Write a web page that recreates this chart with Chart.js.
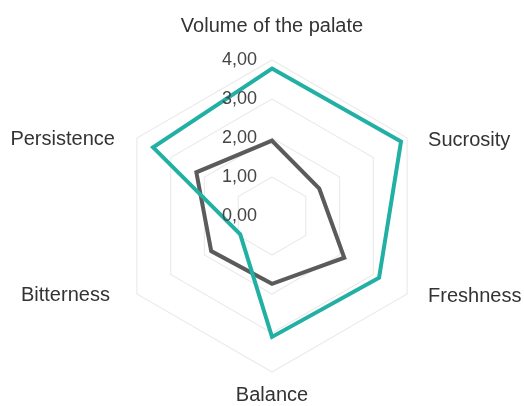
<!DOCTYPE html>
<html>
<head>
<meta charset="utf-8">
<script src="https://cdn.jsdelivr.net/npm/chart.js@4.4.1/dist/chart.umd.min.js"></script>
<style>
  html, body { margin: 0; padding: 0; background: #ffffff; }
  #wrap { width: 524px; height: 406px; position: relative; }
</style>
</head>
<body>
<div id="wrap"><canvas id="radarChart" width="524" height="406"></canvas></div>
<script>
// palate profile
const categories = ['Volume of the palate', 'Sucrosity', 'Freshness', 'Balance', 'Bitterness', 'Persistence'];
const tealValues = [3.78, 3.82, 3.17, 3.10, 0.94, 3.52];
const grayValues = [1.93, 1.40, 2.14, 1.74, 1.80, 2.24];
const tickValues = [0, 1, 2, 3, 4];

const LABEL_FONT = '20px "Liberation Sans", Arial, sans-serif';
const TICK_FONT = '18px "Liberation Sans", Arial, sans-serif';

// axis titles and tick numbers, placed from the radial scale
const radarLabels = {
    id: 'radarLabels',
    afterDraw(chart) {
        const scale = chart.scales.r;
        const ctx = chart.ctx;
        const outer = scale.getDistanceFromCenterForValue(scale.max);
        ctx.save();

        ctx.font = TICK_FONT;
        ctx.fillStyle = '#454545';
        ctx.textAlign = 'right';
        ctx.textBaseline = 'middle';
        tickValues.forEach(v => {
            const y = scale.yCenter - scale.getDistanceFromCenterForValue(v);
            ctx.fillText(v.toFixed(2).replace('.', ','), scale.xCenter - 15, y);
        });

        ctx.font = LABEL_FONT;
        ctx.fillStyle = '#333333';
        categories.forEach((name, i) => {
            const p = scale.getPointPosition(i, outer);
            const dx = p.x - scale.xCenter;
            if (Math.abs(dx) < 1) {
                ctx.textAlign = 'center';
                ctx.textBaseline = p.y < scale.yCenter ? 'bottom' : 'top';
                const off = p.y < scale.yCenter ? -24 : 13;
                ctx.fillText(name, p.x, p.y + off);
            } else if (dx > 0) {
                ctx.textAlign = 'left';
                ctx.textBaseline = 'middle';
                ctx.fillText(name, p.x + 21, p.y + 2);
            } else {
                ctx.textAlign = 'right';
                ctx.textBaseline = 'middle';
                const gap = p.y < scale.yCenter ? 22 : 27;
                ctx.fillText(name, p.x - gap, p.y + 1);
            }
        });
        ctx.restore();
    }
};

const chart = new Chart(document.getElementById('radarChart'), {
    type: 'radar',
    data: {
        labels: categories,
        datasets: [
            {
                data: tealValues,
                borderColor: '#22b0a5',
                borderWidth: 4,
                fill: false,
                pointRadius: 0,
                tension: 0
            },
            {
                data: grayValues,
                borderColor: '#5b5b5b',
                borderWidth: 4,
                fill: false,
                pointRadius: 0,
                tension: 0
            }
        ]
    },
    options: {
        responsive: false,
        animation: false,
        layout: { padding: { left: 116, right: 95, top: 60, bottom: 33 } },
        plugins: {
            legend: { display: false },
            tooltip: { enabled: false }
        },
        scales: {
            r: {
                min: 0,
                max: 4,
                ticks: { display: false, stepSize: 1 },
                pointLabels: { display: false },
                angleLines: { display: false },
                grid: { color: '#ebebeb', lineWidth: 1.2 }
            }
        }
    },
    plugins: [radarLabels]
});
</script>
</body>
</html>
